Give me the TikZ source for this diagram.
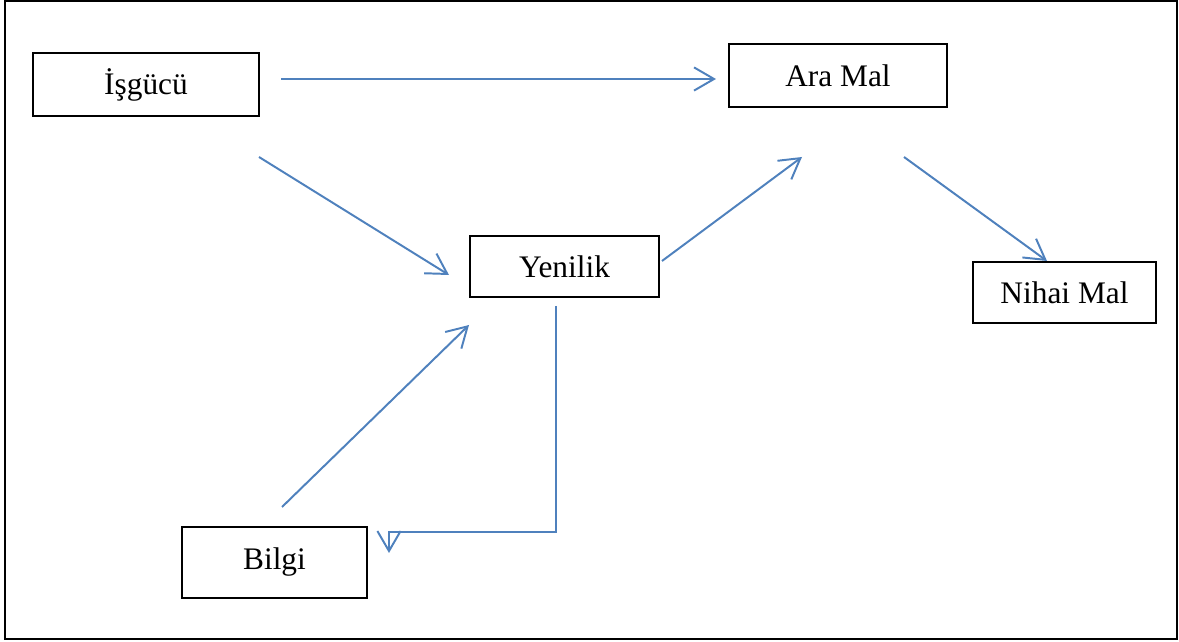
\documentclass[tikz,border=0pt]{standalone}
\usepackage{fontspec}
\setmainfont{Liberation Serif}
\usetikzlibrary{arrows.meta}

\definecolor{arrowblue}{RGB}{79,129,189}

\tikzset{
	box/.style = {draw, line width = 1.1pt, rectangle, inner sep = 0pt, outer sep = 0pt,
		font = \fontsize{22.3}{26}\selectfont},
	flow/.style = {arrowblue, line width = 1.4pt,
		-{Straight Barb[length = 0.5cm, width = 0.58cm, line width = 1.4pt]}}
}

\begin{document}
\begin{tikzpicture}[x = 0.025cm, y = -0.025cm]

\useasboundingbox (0, 0) rectangle (1179, 642);
\draw[line width = 1.1pt] (5, 1) rectangle (1177, 639);

\node[box, minimum width = 5.65cm, minimum height = 1.575cm] (isgucu) at (146, 84.5) {İşgücü};
\node[box, minimum width = 5.45cm, minimum height = 1.575cm] (aramal) at (838, 75.5) {Ara Mal};
\node[box, minimum width = 4.725cm, minimum height = 1.525cm] (yenilik) at (564.5, 266.5) {Yenilik};
\node[box, minimum width = 4.575cm, minimum height = 1.525cm] (nihai) at (1064.5, 292.5) {Nihai Mal};
\node[box, minimum width = 4.625cm, minimum height = 1.775cm] (bilgi) at (274.5, 562.5) {Bilgi};

% free ends of the arrows
\coordinate (isA) at (281, 79);
\coordinate (amA) at (716, 79);
\coordinate (isB) at (259, 157);
\coordinate (yeA) at (449, 275);
\coordinate (yeB) at (662, 261);
\coordinate (amB) at (802, 157);
\coordinate (amC) at (904, 157);
\coordinate (niA) at (1047, 261);
\coordinate (biA) at (282, 507);
\coordinate (yeC) at (469, 325);
\coordinate (yeD) at (556, 306);
\coordinate (biB) at (389, 553);

\draw[flow] (isA) -- (amA);
\draw[flow] (isB) -- (yeA);
\draw[flow] (yeB) -- (amB);
\draw[flow] (amC) -- (niA);
\draw[flow] (biA) -- (yeC);
\draw[flow] (yeD) -- (556, 532) -- (389, 532) -- (biB);

\end{tikzpicture}
\end{document}
